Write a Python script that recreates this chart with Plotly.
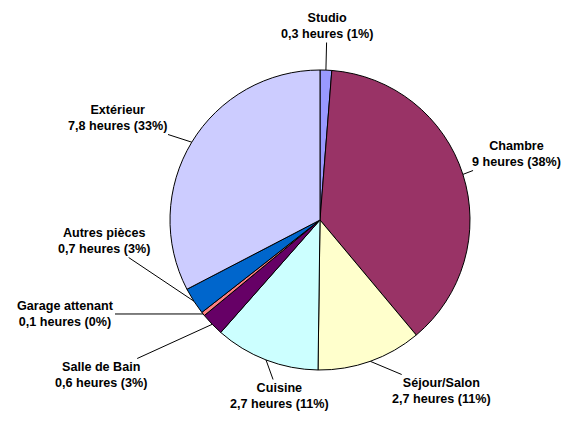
import math
import plotly.graph_objects as go

pieces = ['Studio', 'Chambre', 'Séjour/Salon', 'Cuisine', 'Salle de Bain',
          'Garage attenant', 'Autres pièces', 'Extérieur']
heures = [0.3, 9, 2.7, 2.7, 0.6, 0.1, 0.7, 7.8]
couleurs = ['#9999FF', '#993366', '#FFFFCC', '#CCFFFF', '#660066',
            '#FF8080', '#0066CC', '#CCCCFF']

# position des étiquettes (centre du texte, en pixels dans la fenêtre)
etiquettes_xy = [(327, 26), (516, 154), (441, 391), (279, 396),
                 (101, 375), (65, 314), (104, 241), (117, 118)]

W, H = 574, 427
DECALAGE = 8  # marge par défaut du <body>
cx, cy, r = 320 - DECALAGE, 220 - DECALAGE, 150

fig = go.Figure()
fig.add_trace(go.Pie(labels=pieces, values=heures, sort=False, direction='clockwise',
                     rotation=0, textinfo='none', hoverinfo='label+value+percent',
                     marker=dict(colors=couleurs, line=dict(color='black', width=1)),
                     domain=dict(x=[(cx - r) / W, (cx + r) / W],
                                 y=[(H - cy - r) / H, (H - cy + r) / H]),
                     showlegend=False))

total = sum(heures)
cumul = 0
annotations = []
for nom, v, (lx, ly) in zip(pieces, heures, etiquettes_xy):
    lx, ly = lx - DECALAGE, ly - DECALAGE
    milieu = (cumul + v / 2) / total * 2 * math.pi
    cumul += v
    px = cx + r * math.sin(milieu)
    py = cy - r * math.cos(milieu)
    pct = round(v / total * 100)
    h = f'{v:g}'.replace('.', ',')
    annotations.append(dict(
        x=px / W, y=(H - py) / H, xref='paper', yref='paper',
        ax=lx - px, ay=ly - py, axref='pixel', ayref='pixel',
        text=f'<b>{nom}<br>{h} heures ({pct}%)</b>',
        showarrow=True, arrowhead=0, arrowwidth=1, arrowcolor='black', standoff=0,
        font=dict(family='Liberation Sans, Arial', size=12.6, color='black'),
        align='center'))

fig.update_layout(width=W, height=H, margin=dict(l=0, r=0, t=0, b=0),
                  paper_bgcolor='white', plot_bgcolor='white',
                  annotations=annotations)

fig.write_html('out.html')
